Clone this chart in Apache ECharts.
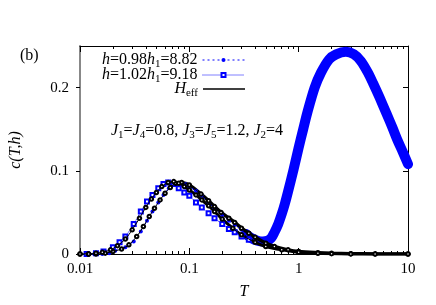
<!DOCTYPE html>
<html><head><meta charset="utf-8">
<script src="https://cdn.jsdelivr.net/npm/echarts@6/dist/echarts.min.js"></script>
<style>html,body{margin:0;padding:0;background:#fff}#c{width:436px;height:305px}</style>
</head><body><div id="c"></div>
<script>
// ---- data ----
// h = 0.98 h1 (blue filled circles)
const T_A = [0.0115, 0.0135, 0.016, 0.0185, 0.021, 0.026, 0.031, 0.036, 0.041, 0.046, 0.052, 0.058, 0.065, 0.072, 0.082, 0.092, 0.1, 0.115, 0.13, 0.15, 0.17, 0.2, 0.23, 0.26, 0.3, 0.35];
const C_A = [0, 0, 0, 0.001, 0.004, 0.008, 0.015, 0.027, 0.040, 0.051, 0.062, 0.071, 0.079, 0.084, 0.085, 0.084, 0.081, 0.076, 0.070, 0.062, 0.055, 0.047, 0.040, 0.035, 0.029, 0.023];
// h = 1.02 h1 (blue open squares)
const T_B = [0.0115, 0.014, 0.0164, 0.02, 0.023, 0.026, 0.031, 0.036, 0.041, 0.046, 0.052, 0.058, 0.064, 0.072, 0.08, 0.09, 0.1, 0.115, 0.13, 0.15, 0.17, 0.2, 0.23, 0.26, 0.3, 0.35];
const C_B = [0, 0.001, 0.003, 0.008, 0.014, 0.021, 0.036, 0.051, 0.063, 0.071, 0.079, 0.084, 0.086, 0.084, 0.079, 0.074, 0.070, 0.062, 0.056, 0.049, 0.043, 0.036, 0.030, 0.026, 0.021, 0.017];
// high-T part shared by both h curves (thick blue band)
const T_BAND = [0.33, 0.37, 0.42, 0.47, 0.52, 0.56, 0.6, 0.65, 0.7, 0.75, 0.8, 0.9, 1.0, 1.1, 1.2, 1.4, 1.6, 1.9, 2.2, 2.7, 3.2, 3.7, 4.3, 4.8, 5.5, 6.4, 7.2, 8, 9, 10];
const C_BAND = [0.024, 0.019, 0.016, 0.015, 0.016, 0.019, 0.026, 0.036, 0.048, 0.061, 0.075, 0.102, 0.128, 0.150, 0.170, 0.200, 0.218, 0.234, 0.240, 0.243, 0.240, 0.232, 0.218, 0.205, 0.188, 0.168, 0.152, 0.137, 0.122, 0.108];
// H_eff for h = 0.98 h1
const T_HA = [0.01, 0.012, 0.014, 0.017, 0.02, 0.024, 0.028, 0.033, 0.038, 0.043, 0.048, 0.054, 0.06, 0.067, 0.075, 0.085, 0.1, 0.128, 0.15, 0.17, 0.195, 0.23, 0.26, 0.3, 0.35, 0.4, 0.5, 0.6, 0.8, 1, 1.5, 2, 3, 5, 10];
const C_HA = [0, 0, 0, 0.001, 0.003, 0.006, 0.011, 0.021, 0.033, 0.045, 0.055, 0.065, 0.073, 0.080, 0.085, 0.086, 0.083, 0.072, 0.064, 0.057, 0.050, 0.043, 0.038, 0.031, 0.025, 0.020, 0.013, 0.009, 0.005, 0.003, 0.0015, 0.0008, 0.0003, 0.0001, 0];
// H_eff for h = 1.02 h1
const T_HB = [0.01, 0.012, 0.014, 0.016, 0.019, 0.022, 0.026, 0.03, 0.035, 0.04, 0.045, 0.05, 0.056, 0.064, 0.072, 0.08, 0.09, 0.1, 0.115, 0.13, 0.15, 0.17, 0.2, 0.25, 0.3, 0.4, 0.5, 0.7, 1, 1.5, 2, 3, 5, 10];
const C_HB = [0, 0, 0.001, 0.002, 0.005, 0.010, 0.018, 0.029, 0.043, 0.056, 0.066, 0.074, 0.081, 0.086, 0.087, 0.085, 0.081, 0.077, 0.071, 0.065, 0.058, 0.051, 0.042, 0.031, 0.023, 0.014, 0.009, 0.005, 0.002, 0.0008, 0.0004, 0.0001, 0, 0];
// axes
const X_MAJOR = [0.01, 0.1, 1, 10];
const X_MINOR = [0.02,0.03,0.04,0.05,0.06,0.07,0.08,0.09,0.2,0.3,0.4,0.5,0.6,0.7,0.8,0.9,2,3,4,5,6,7,8,9];
const Y_TICKS = [0, 0.1, 0.2];

const FONT = 'Liberation Serif';
const FS = 16;
const FT = 15;
const pairs = (t, c) => t.map((v, i) => [v, c[i]]);
const tail = (t, c, from) => pairs(t, c).filter(p => p[0] >= from);
const RICH = {
  i: {fontFamily: FONT, fontSize: FS, fontStyle: 'italic', color: '#000'},
  s: {fontFamily: FONT, fontSize: 11, color: '#000', padding: [8, 0, 0, 0]}
};
const NAME_A = 'A', NAME_B = 'B', NAME_H = 'H';
const LEG_TEXT = {
  A: '{i|h}=0.98{i|h}{s|1}=8.82',
  B: '{i|h}=1.02{i|h}{s|1}=9.18',
  H: '{i|H}{s|eff}'
};

function logX(extra) {
  return Object.assign({type: 'log', logBase: 10, min: 0.01, max: 10, gridIndex: 0, splitLine: {show: false}}, extra);
}
function legend(name, top, icon) {
  return {
    data: [icon ? {name, icon} : {name}], orient: 'vertical', right: 186, top,
    align: 'right', itemWidth: 42, itemHeight: icon ? 1.5 : 5, itemGap: 0,
    formatter: n => LEG_TEXT[n],
    lineStyle: {width: 1},
    itemStyle: {borderWidth: icon ? 0 : 1},
    textStyle: {fontFamily: FONT, fontSize: FS, color: '#000', rich: RICH}
  };
}

const chart = echarts.init(document.getElementById('c'));
chart.setOption({
  animation: false,
  backgroundColor: '#fff',
  grid: {left: 78, right: 28, top: 46, bottom: 51, containLabel: false},
  legend: [legend(NAME_A, 47, null), legend(NAME_B, 62, null), legend(NAME_H, 76, 'rect')],
  xAxis: [
    logX({position: 'bottom', axisLine: {show: true, lineStyle: {color: '#000', width: 1}},
      axisTick: {show: true, inside: true, length: 6, customValues: X_MAJOR, lineStyle: {color: '#000'}},
      axisLabel: {show: true, customValues: X_MAJOR, formatter: v => String(v), fontFamily: FONT, fontSize: FT, color: '#000', margin: 8},
      name: 'T', nameLocation: 'middle', nameGap: 30,
      nameTextStyle: {fontFamily: FONT, fontSize: FS, fontStyle: 'italic', color: '#000'}}),
    logX({position: 'bottom', axisLine: {show: false},
      axisTick: {show: true, inside: true, length: 3, customValues: X_MINOR, lineStyle: {color: '#000'}},
      axisLabel: {show: false}}),
    logX({position: 'top', axisLine: {show: true, lineStyle: {color: '#000', width: 1}},
      axisTick: {show: true, inside: true, length: 6, customValues: X_MAJOR, lineStyle: {color: '#000'}},
      axisLabel: {show: false}}),
    logX({position: 'top', axisLine: {show: false},
      axisTick: {show: true, inside: true, length: 3, customValues: X_MINOR, lineStyle: {color: '#000'}},
      axisLabel: {show: false}})
  ],
  yAxis: [
    {type: 'value', min: 0, max: 0.25, position: 'left', splitLine: {show: false},
      axisLine: {show: true, lineStyle: {color: '#888', width: 2}},
      axisTick: {show: true, inside: false, length: 4, customValues: Y_TICKS, lineStyle: {color: '#000'}},
      axisLabel: {show: true, customValues: Y_TICKS, formatter: v => String(v), fontFamily: FONT, fontSize: FT, color: '#000', margin: 11},
      name: 'c(T,h)', nameLocation: 'middle', nameGap: 56, nameRotate: 90,
      nameTextStyle: {fontFamily: FONT, fontSize: FS, fontStyle: 'italic', color: '#000'}},
    {type: 'value', min: 0, max: 0.25, position: 'right', splitLine: {show: false},
      axisLine: {show: true, lineStyle: {color: '#000', width: 1}},
      axisTick: {show: true, inside: true, length: 5, customValues: Y_TICKS, lineStyle: {color: '#000'}},
      axisLabel: {show: false}}
  ],
  series: [
    {type: 'line', name: 'bandA', data: pairs(T_BAND, C_BAND), smooth: 0.3, symbol: 'none',
      lineStyle: {color: '#0000ff', width: 10, cap: 'round', join: 'round'}, z: 1, silent: true},
    {type: 'line', name: 'tailHA', data: tail(T_HA, C_HA, 0.085), smooth: 0.3, symbol: 'none',
      lineStyle: {color: '#000', width: 3.5}, z: 2, silent: true},
    {type: 'line', name: 'tailHB', data: tail(T_HB, C_HB, 0.08), smooth: 0.3, symbol: 'none',
      lineStyle: {color: '#000', width: 3}, z: 2, silent: true},
    {type: 'line', name: NAME_A, data: pairs(T_A, C_A), smooth: 0.3, symbol: 'circle', symbolSize: 4,
      itemStyle: {color: '#0000ff'}, lineStyle: {color: '#0000ff', width: 1, type: [2, 3]}, z: 3},
    {type: 'line', name: NAME_B, data: pairs(T_B, C_B), smooth: 0.3, symbol: 'emptyRect', symbolSize: 4,
      itemStyle: {color: '#0000ff', borderColor: '#0000ff', borderWidth: 1}, lineStyle: {color: '#0000ff', width: 1, type: [1, 1]}, z: 3},
    {type: 'line', name: NAME_H, data: pairs(T_HA, C_HA), smooth: 0.3, symbol: 'emptyCircle', symbolSize: 3.5,
      itemStyle: {color: '#000', borderColor: '#000', borderWidth: 0.7}, lineStyle: {color: '#000', width: 1}, z: 4},
    {type: 'line', name: NAME_H, data: pairs(T_HB, C_HB), smooth: 0.3, symbol: 'emptyCircle', symbolSize: 3.5,
      itemStyle: {color: '#000', borderColor: '#000', borderWidth: 0.7}, lineStyle: {color: '#000', width: 1}, z: 4}
  ],
  graphic: [
    {type: 'text', left: 20, top: 48, style: {text: '(b)', font: '16px "Liberation Serif"', fill: '#000'}},
    {type: 'text', x: 197, y: 131, style: {
      text: '{i|J}{s|1}={i|J}{s|4}=0.8, {i|J}{s|3}={i|J}{s|5}=1.2, {i|J}{s|2}=4',
      font: '16px "Liberation Serif"', fill: '#000', align: 'center', verticalAlign: 'middle', rich: RICH}}
  ]
});
</script>
</body></html>
